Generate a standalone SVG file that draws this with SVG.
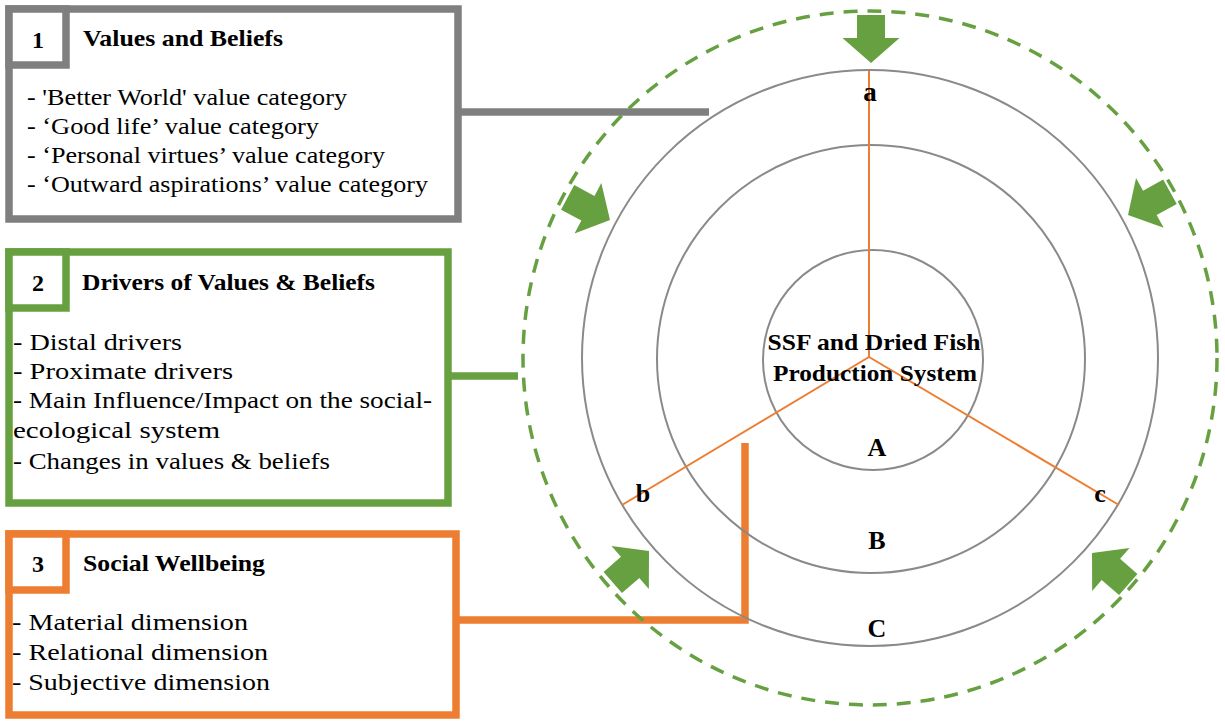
<svg xmlns="http://www.w3.org/2000/svg" width="1225" height="721" viewBox="0 0 1225 721">
  <style>
    .box { fill: #ffffff; stroke-width: 7.5; }
    .gray { stroke: #7f7f7f; }
    .green { stroke: #66a040; }
    .orange { stroke: #ed7d31; }
    .txt { font-family: "Liberation Serif", "Times New Roman", serif; font-size: 22.5px; fill: #000; }
    .bold { font-weight: bold; }
    .num { font-family: "Liberation Serif", "Times New Roman", serif; font-size: 24px; font-weight: bold; text-anchor: middle; }
    .ring { fill: none; stroke: #8a8a8a; stroke-width: 2; }
    .spoke { stroke: #ed7d31; stroke-width: 2; fill: none; }
    .lbl { font-family: "Liberation Serif", "Times New Roman", serif; font-weight: bold; text-anchor: middle; }
    .conn { fill: none; stroke-width: 7.5; }
  </style>
  <defs>
    <!-- block arrow, tip at origin, pointing down -->
    <polygon id="blockArrow" points="-14,-48 14,-48 14,-25 28.5,-25 0,0 -28.5,-25 -14,-25" fill="#66a040"/>
  </defs>

  <rect width="1225" height="721" fill="#ffffff"/>

  <!-- connectors from boxes to the circle system -->
  <g id="connectors">
    <line class="conn gray" x1="458" y1="112" x2="709" y2="112"/>
    <line class="conn green" x1="448" y1="376" x2="518" y2="376"/>
    <polyline class="conn orange" points="456,620 745,620 745,443"/>
  </g>

  <!-- Box 1 -->
  <g id="box-values">
    <rect class="box gray" x="9" y="9" width="449" height="210"/>
    <rect class="box gray" x="9" y="9" width="57" height="56"/>
    <text class="num" x="38" y="48">1</text>
    <text class="txt bold" x="83" y="46" textLength="200" lengthAdjust="spacingAndGlyphs">Values and Beliefs</text>
    <text class="txt" x="27" y="105" textLength="320" lengthAdjust="spacingAndGlyphs">- 'Better World' value category</text>
    <text class="txt" x="27" y="134" textLength="292" lengthAdjust="spacingAndGlyphs">- ‘Good life’ value category</text>
    <text class="txt" x="27" y="163" textLength="358" lengthAdjust="spacingAndGlyphs">- ‘Personal virtues’ value category</text>
    <text class="txt" x="27" y="192" textLength="401" lengthAdjust="spacingAndGlyphs">- ‘Outward aspirations’ value category</text>
  </g>

  <!-- Box 2 -->
  <g id="box-drivers">
    <rect class="box green" x="9" y="252" width="439" height="251"/>
    <rect class="box green" x="9" y="252" width="57" height="56"/>
    <text class="num" x="38" y="291">2</text>
    <text class="txt bold" x="82" y="290" textLength="293" lengthAdjust="spacingAndGlyphs">Drivers of Values &amp; Beliefs</text>
    <text class="txt" x="13" y="350" textLength="169" lengthAdjust="spacingAndGlyphs">- Distal drivers</text>
    <text class="txt" x="13" y="379" textLength="220" lengthAdjust="spacingAndGlyphs">- Proximate drivers</text>
    <text class="txt" x="13" y="408" textLength="419" lengthAdjust="spacingAndGlyphs">- Main Influence/Impact on the social-</text>
    <text class="txt" x="13" y="438" textLength="207" lengthAdjust="spacingAndGlyphs">ecological system</text>
    <text class="txt" x="13" y="469" textLength="317" lengthAdjust="spacingAndGlyphs">- Changes in values &amp; beliefs</text>
  </g>

  <!-- Box 3 -->
  <g id="box-wellbeing">
    <rect class="box orange" x="9" y="534" width="447" height="181"/>
    <rect class="box orange" x="9" y="534" width="57" height="56"/>
    <text class="num" x="38" y="572">3</text>
    <text class="txt bold" x="83" y="571" textLength="182" lengthAdjust="spacingAndGlyphs">Social Wellbeing</text>
    <text class="txt" x="12" y="630" textLength="236" lengthAdjust="spacingAndGlyphs">- Material dimension</text>
    <text class="txt" x="12" y="660" textLength="256" lengthAdjust="spacingAndGlyphs">- Relational dimension</text>
    <text class="txt" x="12" y="690" textLength="258" lengthAdjust="spacingAndGlyphs">- Subjective dimension</text>
  </g>

  <!-- Concentric system -->
  <g id="system">
    <circle cx="870" cy="358" r="347" fill="none" stroke="#66a040" stroke-width="3.5" stroke-dasharray="14 10"/>
    <circle class="ring" cx="870" cy="358" r="288"/>
    <circle class="ring" cx="871" cy="359" r="214"/>
    <circle class="ring" cx="873" cy="360" r="110"/>
    <line class="spoke" x1="869" y1="357" x2="869" y2="71"/>
    <line class="spoke" x1="869" y1="357" x2="622" y2="505"/>
    <line class="spoke" x1="869" y1="357" x2="1119" y2="505"/>
  </g>

  <!-- inward arrows -->
  <g id="arrows">
    <use href="#blockArrow" transform="translate(871,63)"/>
    <use href="#blockArrow" transform="translate(610,220) rotate(-62)"/>
    <use href="#blockArrow" transform="translate(1128,215) rotate(61)"/>
    <use href="#blockArrow" transform="translate(649,551) rotate(-131)"/>
    <use href="#blockArrow" transform="translate(1092,553) rotate(131)"/>
  </g>

  <!-- labels -->
  <g id="labels">
    <text class="lbl" x="870" y="101" font-size="27">a</text>
    <text class="lbl" x="643" y="502" font-size="26">b</text>
    <text class="lbl" x="1100" y="502" font-size="26">c</text>
    <text class="lbl" x="874" y="350" font-size="23" textLength="213" lengthAdjust="spacingAndGlyphs">SSF and Dried Fish</text>
    <text class="lbl" x="875" y="381" font-size="23" textLength="204" lengthAdjust="spacingAndGlyphs">Production System</text>
    <text class="lbl" x="877" y="456" font-size="26">A</text>
    <text class="lbl" x="877" y="549" font-size="26">B</text>
    <text class="lbl" x="877" y="637" font-size="26">C</text>
  </g>
</svg>
